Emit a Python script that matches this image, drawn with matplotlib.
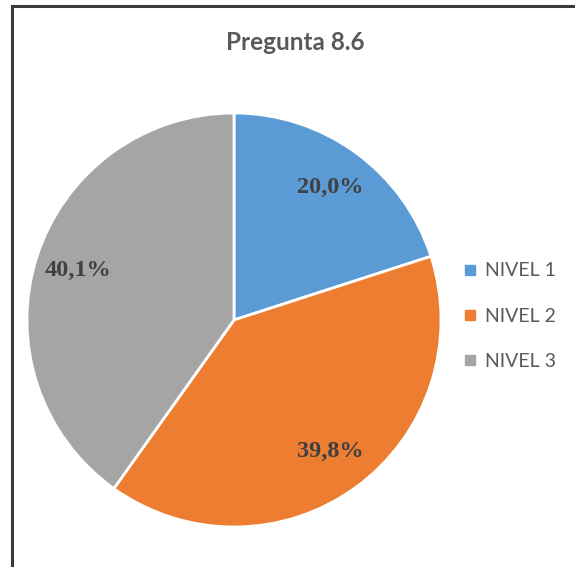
import matplotlib.pyplot as plt
from matplotlib.lines import Line2D

# datos de la pregunta 8.6
niveles = ["NIVEL 1", "NIVEL 2", "NIVEL 3"]
porcentajes = [20.0, 39.8, 40.1]
colores = ["#5B9BD5", "#ED7D31", "#A5A5A5"]

W, H = 575, 567
fig = plt.figure(figsize=(W / 100, H / 100), dpi=100)

# marco del grafico (solo arriba e izquierda quedan dentro)
fig.add_artist(Line2D([11.5 / W, 11.5 / W], [0, 1 - 5.5 / H], color="#3a3a3a", lw=2.2))
fig.add_artist(Line2D([11.5 / W, 1], [1 - 5.5 / H, 1 - 5.5 / H], color="#3a3a3a", lw=2.2))

cx, cy, r = 234, 320, 207
ax = fig.add_axes([(cx - r) / W, (H - cy - r) / H, 2 * r / W, 2 * r / H])

etiquetas = iter(porcentajes)


def fmt(p):
    return ("%.1f%%" % next(etiquetas)).replace(".", ",")


wedges, textos, autotextos = ax.pie(
    porcentajes, colors=colores, startangle=90, counterclock=False,
    autopct=fmt, pctdistance=0.79,
    wedgeprops=dict(edgecolor="white", linewidth=2),
    textprops=dict(family="Liberation Serif", fontweight="bold",
                   fontsize=17.5, color="#404040"))
ax.set_xlim(-1, 1)
ax.set_ylim(-1, 1)
ax.axis("off")

fig.text(295 / W, 1 - 43 / H, "Pregunta 8.6", ha="center", va="center",
         fontsize=17.5, fontweight="bold", color="#595959", family="Lato")

handles = [Line2D([], [], marker="s", ls="", markersize=7, color=c) for c in colores]
fig.legend(handles, niveles, loc="center left", bbox_to_anchor=(443 / W, 1 - 316 / H),
           frameon=False, labelspacing=1.45, handletextpad=0.25, handlelength=1.0,
           prop=dict(family="Lato", size=14), labelcolor="#595959")

fig.savefig("out.png", dpi=100)
